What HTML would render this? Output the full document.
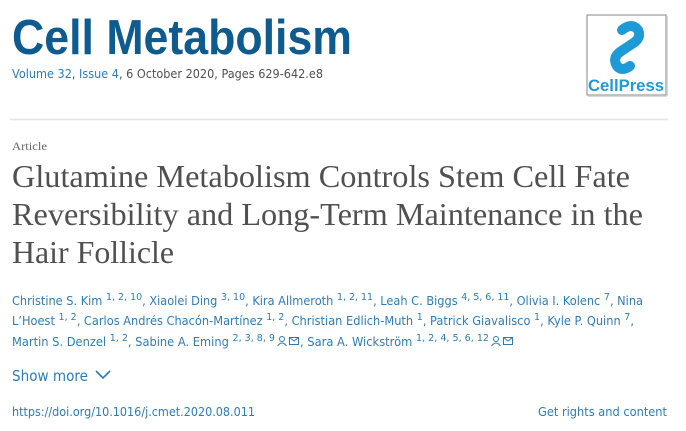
<!DOCTYPE html>
<html><head><meta charset="utf-8"><style>
html,body{margin:0;padding:0;background:#fff;width:686px;height:431px;overflow:hidden}
svg{display:block}
</style></head><body>
<svg width="686" height="431" viewBox="0 0 686 431" xmlns="http://www.w3.org/2000/svg">
<rect width="686" height="431" fill="#fff"/>
<text x="12" y="54" font-family="Liberation Sans, sans-serif" font-weight="bold" font-size="49" fill="#0f5b8e" textLength="340" lengthAdjust="spacingAndGlyphs">Cell Metabolism</text>
<text x="12" y="78" font-family="DejaVu Sans, Liberation Sans, sans-serif" font-size="12" fill="#505050" textLength="311" lengthAdjust="spacingAndGlyphs"><tspan fill="#2e7cb6">Volume 32</tspan>, <tspan fill="#2e7cb6">Issue 4</tspan>, 6 October 2020, Pages 629-642.e8</text>
<rect x="587" y="15" width="79" height="80" fill="#fff" stroke="#999" stroke-width="1.2"/>
<line x1="588" y1="96" x2="667" y2="96" stroke="#ccc" stroke-width="1.5"/>
<line x1="667" y1="16" x2="667" y2="96" stroke="#ccc" stroke-width="1.5"/>
<g fill="none" stroke="#1e9ad7" stroke-width="10" stroke-linecap="round">
<path d="M622 30 Q632 22 638 30 Q642 38 632 44 L620 52 Q612 58 617 66 Q622 72 630 66"/>
</g>
<text x="626" y="91" text-anchor="middle" font-family="Liberation Sans, sans-serif" font-weight="bold" font-size="17" fill="#1e9ad7" textLength="76" lengthAdjust="spacingAndGlyphs">CellPress</text>
<line x1="10" y1="119.5" x2="668" y2="119.5" stroke="#e4e4e4" stroke-width="1.5"/>
<text x="12" y="150" font-family="Liberation Serif, serif" font-size="12" fill="#666" textLength="35" lengthAdjust="spacingAndGlyphs">Article</text>
<g font-family="Liberation Serif, serif" font-size="32" fill="#505050">
<text x="12" y="187" textLength="618" lengthAdjust="spacingAndGlyphs">Glutamine Metabolism Controls Stem Cell Fate</text>
<text x="12" y="225" textLength="631" lengthAdjust="spacingAndGlyphs">Reversibility and Long-Term Maintenance in the</text>
<text x="12" y="263" textLength="162" lengthAdjust="spacingAndGlyphs">Hair Follicle</text>
</g>
<g font-family="DejaVu Sans, Liberation Sans, sans-serif" font-size="12" fill="#2e7cb6">
<text x="12" y="305" textLength="631" lengthAdjust="spacingAndGlyphs">Christine S. Kim <tspan font-size="10" dy="-5">1, 2, 10</tspan><tspan dy="5">, Xiaolei Ding </tspan><tspan font-size="10" dy="-5">3, 10</tspan><tspan dy="5">, Kira Allmeroth </tspan><tspan font-size="10" dy="-5">1, 2, 11</tspan><tspan dy="5">, Leah C. Biggs </tspan><tspan font-size="10" dy="-5">4, 5, 6, 11</tspan><tspan dy="5">, Olivia I. Kolenc </tspan><tspan font-size="10" dy="-5">7</tspan><tspan dy="5">, Nina</tspan></text>
<text x="12" y="325" textLength="622" lengthAdjust="spacingAndGlyphs">L’Hoest <tspan font-size="10" dy="-5">1, 2</tspan><tspan dy="5">, Carlos Andrés Chacón-Martínez </tspan><tspan font-size="10" dy="-5">1, 2</tspan><tspan dy="5">, Christian Edlich-Muth </tspan><tspan font-size="10" dy="-5">1</tspan><tspan dy="5">, Patrick Giavalisco </tspan><tspan font-size="10" dy="-5">1</tspan><tspan dy="5">, Kyle P. Quinn </tspan><tspan font-size="10" dy="-5">7</tspan><tspan dy="5">,</tspan></text>
<text x="12" y="346" textLength="263" lengthAdjust="spacingAndGlyphs">Martin S. Denzel <tspan font-size="10" dy="-5">1, 2</tspan><tspan dy="5">, Sabine A. Eming </tspan><tspan font-size="10" dy="-5">2, 3, 8, 9</tspan></text>
<text x="300" y="346" textLength="189" lengthAdjust="spacingAndGlyphs">, Sara A. Wickström <tspan font-size="10" dy="-5">1, 2, 4, 5, 6, 12</tspan></text>
</g>
<g fill="none" stroke="#2e7cb6" stroke-width="1">
<circle cx="282" cy="339" r="2.5"/><path d="M277.5 346 Q282 340 286.5 346"/>
<rect x="289.5" y="337.5" width="9" height="7"/><path d="M289.5 337.5 L294 341 L298.5 337.5"/>
<circle cx="496" cy="339" r="2.5"/><path d="M491.5 346 Q496 340 500.5 346"/>
<rect x="503.5" y="337.5" width="9" height="7"/><path d="M503.5 337.5 L508 341 L512.5 337.5"/>
</g>
<text x="12" y="381" font-family="DejaVu Sans, Liberation Sans, sans-serif" font-size="15" fill="#2e7cb6" textLength="76" lengthAdjust="spacingAndGlyphs">Show more</text>
<path d="M96 371 L103 378 L110 371" fill="none" stroke="#2e7cb6" stroke-width="1.6"/>
<g font-family="DejaVu Sans, Liberation Sans, sans-serif" font-size="12" fill="#2e7cb6">
<text x="12" y="416" textLength="243" lengthAdjust="spacingAndGlyphs">https://doi.org/10.1016/j.cmet.2020.08.011</text>
<text x="538" y="416" textLength="129" lengthAdjust="spacingAndGlyphs">Get rights and content</text>
</g>
</svg>
</body></html>
